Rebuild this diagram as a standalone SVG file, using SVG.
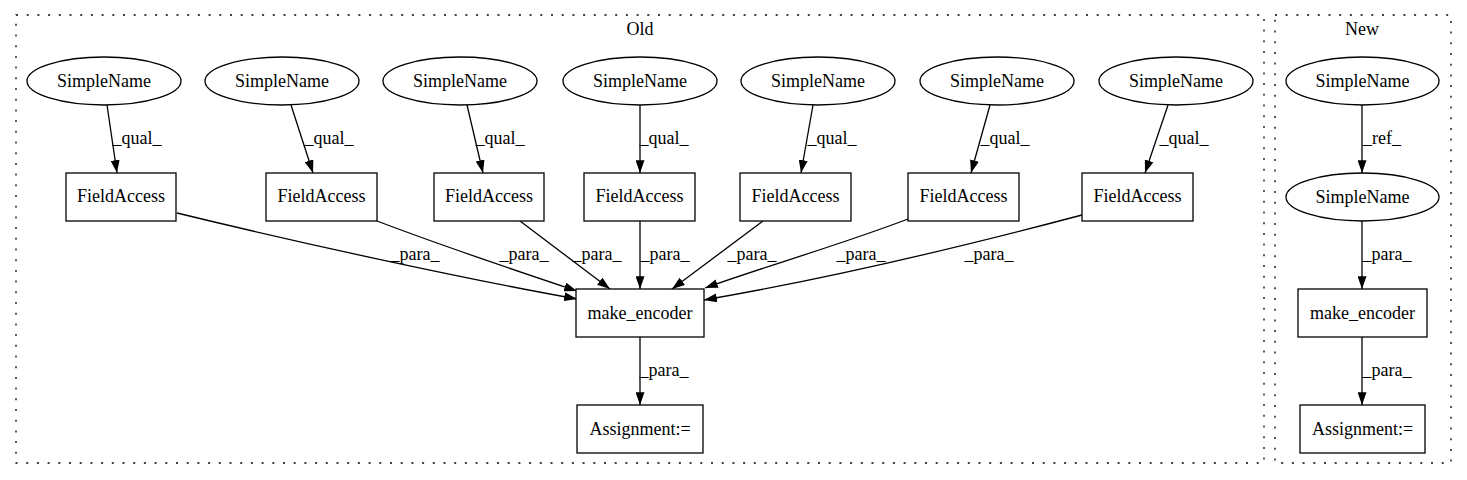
<svg xmlns="http://www.w3.org/2000/svg" width="1467" height="480" viewBox="0 0 1467 480">
<style>
text{font-family:'Liberation Serif','Times New Roman',serif;font-size:18px;fill:#000;text-anchor:middle}
.n{fill:#fff;stroke:#000;stroke-width:1.3}
.c{fill:none;stroke:#000;stroke-width:1.3;stroke-dasharray:2,8.7}
.e{fill:none;stroke:#000;stroke-width:1.3;marker-end:url(#ah)}
</style>
<defs>
<marker id="ah" viewBox="0 0 10 7" refX="10" refY="3.5" markerWidth="13" markerHeight="9" markerUnits="userSpaceOnUse" orient="auto">
<path d="M0,0 L10,3.5 L0,7 z" fill="#000"/>
</marker>
</defs>
<rect width="1467" height="480" fill="#fff"/>
<g id="cluster_old">
<rect class="c" x="16" y="15" width="1248" height="448"/>
<text x="640" y="35">Old</text>
</g>
<g id="cluster_new">
<rect class="c" x="1275" y="15" width="176" height="448"/>
<text x="1362" y="35">New</text>
</g>
<g id="edges">
<path class="e" d="M107,105 L117,173"/>
<path class="e" d="M291,105 L313,173"/>
<path class="e" d="M467,105 L483,173"/>
<path class="e" d="M640,105 L640,173"/>
<path class="e" d="M813,105 L801,173"/>
<path class="e" d="M990,105 L971,173"/>
<path class="e" d="M1168,105 L1145,173"/>
<text x="137" y="144">_qual_</text>
<text x="329" y="144">_qual_</text>
<text x="500" y="144">_qual_</text>
<text x="664" y="144">_qual_</text>
<text x="832" y="144">_qual_</text>
<text x="1005" y="144">_qual_</text>
<text x="1184" y="144">_qual_</text>
<path class="e" d="M177,213 C300,243 460,278 577,299"/>
<path class="e" d="M377,221 C440,245 520,272 577,291"/>
<path class="e" d="M520,221 L610,289"/>
<path class="e" d="M640,221 L640,289"/>
<path class="e" d="M763,221 L672,289"/>
<path class="e" d="M908,219 C840,245 760,268 705,288"/>
<path class="e" d="M1082,215 C950,250 820,280 704,300"/>
<text x="415" y="260">_para_</text>
<text x="524" y="260">_para_</text>
<text x="597" y="260">_para_</text>
<text x="665" y="260">_para_</text>
<text x="752" y="260">_para_</text>
<text x="861" y="260">_para_</text>
<text x="989" y="260">_para_</text>
<path class="e" d="M640,337 L640,405"/>
<text x="664" y="376">_para_</text>
<path class="e" d="M1362,105 L1362,173"/>
<text x="1382" y="144">_ref_</text>
<path class="e" d="M1362,221 L1362,289"/>
<text x="1387" y="260">_para_</text>
<path class="e" d="M1362,337 L1362,405"/>
<text x="1387" y="376">_para_</text>
</g>
<g id="sn1"><ellipse class="n" cx="104" cy="81" rx="77" ry="24"/><text x="104" y="86.5">SimpleName</text></g>
<g id="sn2"><ellipse class="n" cx="282" cy="81" rx="77" ry="24"/><text x="282" y="86.5">SimpleName</text></g>
<g id="sn3"><ellipse class="n" cx="460" cy="81" rx="77" ry="24"/><text x="460" y="86.5">SimpleName</text></g>
<g id="sn4"><ellipse class="n" cx="640" cy="81" rx="77" ry="24"/><text x="640" y="86.5">SimpleName</text></g>
<g id="sn5"><ellipse class="n" cx="818" cy="81" rx="77" ry="24"/><text x="818" y="86.5">SimpleName</text></g>
<g id="sn6"><ellipse class="n" cx="997" cy="81" rx="77" ry="24"/><text x="997" y="86.5">SimpleName</text></g>
<g id="sn7"><ellipse class="n" cx="1176" cy="81" rx="77" ry="24"/><text x="1176" y="86.5">SimpleName</text></g>
<g id="fa1"><rect class="n" x="66" y="173" width="110" height="48"/><text x="121" y="202">FieldAccess</text></g>
<g id="fa2"><rect class="n" x="266" y="173" width="111" height="48"/><text x="321.5" y="202">FieldAccess</text></g>
<g id="fa3"><rect class="n" x="434" y="173" width="110" height="48"/><text x="489" y="202">FieldAccess</text></g>
<g id="fa4"><rect class="n" x="584" y="173" width="111" height="48"/><text x="639.5" y="202">FieldAccess</text></g>
<g id="fa5"><rect class="n" x="740" y="173" width="111" height="48"/><text x="795.5" y="202">FieldAccess</text></g>
<g id="fa6"><rect class="n" x="908" y="173" width="111" height="48"/><text x="963.5" y="202">FieldAccess</text></g>
<g id="fa7"><rect class="n" x="1082" y="173" width="111" height="48"/><text x="1137.5" y="202">FieldAccess</text></g>
<g id="me_old"><rect class="n" x="576" y="289" width="128" height="48"/><text x="640" y="318.5">make_encoder</text></g>
<g id="as_old"><rect class="n" x="577" y="405" width="126" height="48"/><text x="640" y="434.5">Assignment:=</text></g>
<g id="sn_new1"><ellipse class="n" cx="1362.5" cy="81" rx="76.5" ry="24"/><text x="1362.5" y="86.5">SimpleName</text></g>
<g id="sn_new2"><ellipse class="n" cx="1362.5" cy="197" rx="76.5" ry="24"/><text x="1362.5" y="202.5">SimpleName</text></g>
<g id="me_new"><rect class="n" x="1298" y="289" width="129" height="48"/><text x="1362.5" y="318.5">make_encoder</text></g>
<g id="as_new"><rect class="n" x="1300" y="405" width="125" height="48"/><text x="1362.5" y="434.5">Assignment:=</text></g>
</svg>
